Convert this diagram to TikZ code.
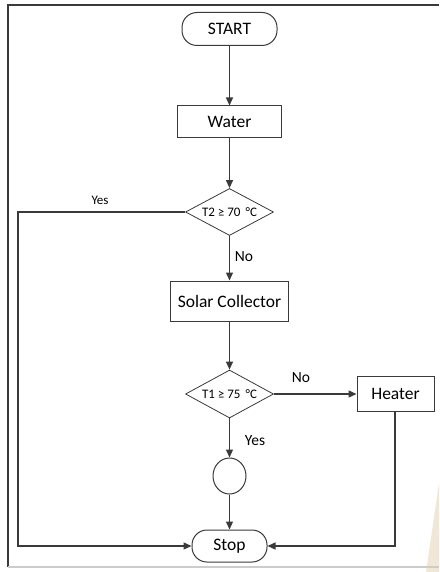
\documentclass[tikz,border=0pt]{standalone}
\usepackage{fontspec}
\setmainfont{Carlito}
\usetikzlibrary{shapes.geometric,arrows.meta}
\definecolor{ink}{HTML}{3A3A3A}
\definecolor{sand}{HTML}{F1E7D7}
\begin{document}
\begin{tikzpicture}[x=1pt,y=-1pt,
  flow/.style={draw=ink,line width=1.3pt,-{Triangle[length=8pt,width=7pt]}},
  box/.style={draw=ink,line width=1pt,rectangle,inner sep=0pt,font=\fontsize{17.5}{19}\selectfont},
  term/.style={box,rounded corners=15pt},
  decision/.style={draw=ink,line width=0.8pt,diamond,inner sep=0pt},
  dtext/.style={font=\fontsize{13}{14}\selectfont,inner sep=0pt},
  tag/.style={font=\fontsize{15.5}{17}\selectfont,inner sep=0pt}]
\useasboundingbox (0,0) rectangle (439,572);
\fill[white] (0,0) rectangle (439,572);
% background accent and frame
\fill[sand] (439,483) -- (426,572) -- (439,572) -- cycle;
\draw[ink,line width=2.2pt] (8,567) -- (8,5) -- (439,5);
\draw[black!20,line width=1.2pt] (8,567) -- (439,567);

% nodes, all on one vertical axis
\node[term,minimum width=95pt,minimum height=33pt] (start) at (229.5,29) {START};
\node[box,minimum width=104pt,minimum height=32pt] (water) at (229.5,122) {Water};
\node[decision,minimum width=88pt,minimum height=47pt,
      label={[dtext]center:T2 ≥ 70 \,°C}] (d1) at (229.5,212) {};
\node[box,minimum width=118pt,minimum height=40pt] (solar) at (229.5,301) {Solar Collector};
\node[decision,minimum width=88pt,minimum height=48pt,
      label={[dtext]center:T1 ≥ 75 \,°C}] (d2) at (229.5,394) {};
\node[box,minimum width=77pt,minimum height=35pt] (heater) at (395.5,394) {Heater};
\node[draw=ink,line width=1pt,ellipse,minimum width=33pt,minimum height=36pt,inner sep=0pt] (circ) at (229.5,476) {};
\node[term,minimum width=75pt,minimum height=32pt] (stop) at (229.5,546) {Stop};

\coordinate (yesTop) at (18,212);
\coordinate (yesBot) at (18,546);
\coordinate (heatBot) at (395,546);

% connectors
\draw[flow] (start) -- (water);
\draw[flow] (water) -- (d1);
\draw[flow] (d1) -- (solar);
\draw[flow] (solar) -- (d2);
\draw[flow] (d2) -- (heater);
\draw[flow] (d2) -- (circ);
\draw[flow] (circ) -- (stop);
\draw[flow] (d1.west) -- (yesTop) -- (yesBot) -- (stop.west);
\draw[flow] (heater.south -| heatBot) -- (heatBot) -- (stop.east);

% branch labels
\node[tag,font=\fontsize{13}{14}\selectfont] (ly1) at (100,200) {Yes};
\node[tag] (ln1) at (244,257) {No};
\node[tag] (ln2) at (301,378) {No};
\node[tag] (ly2) at (255,441) {Yes};
\end{tikzpicture}
\end{document}
